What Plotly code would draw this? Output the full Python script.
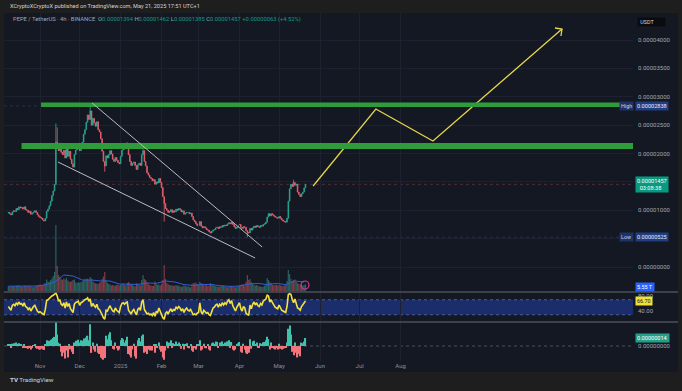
import plotly.graph_objects as go
import pandas as pd

# ---------------- data (daily) ----------------
START = "2024-10-08"
first_open_e6 = 9.5
close_e6 = [
    # Oct 8-31
    9.6, 9.4, 9.2, 9.7, 9.9, 9.8, 10.3, 10.1, 10.6, 10.4, 10.5, 10.2, 10.6, 10.1, 10.0, 9.6, 9.8, 9.3, 9.5, 9.7, 9.9, 9.6, 9.2, 8.9,
    # Nov
    8.7, 8.6, 8.3, 8.1, 8.6, 9.8, 10.2, 10.8, 11.6, 12.6, 13.4, 14.5, 22.0, 21.5, 20.5, 21.8, 20.2, 19.8, 20.6, 19.2,
    20.8, 19.5, 20.4, 19.0, 18.2, 17.6, 19.8, 20.6, 20.9, 21.4,
    # Dec
    20.5, 21.6, 22.0, 23.4, 24.2, 25.5, 26.8, 26.0, 27.5, 25.0, 26.2, 25.4, 24.8, 25.6, 24.2, 23.8, 22.6, 20.4, 18.6, 17.8,
    19.6, 19.2, 19.8, 20.5, 19.9, 19.0, 18.6, 19.3, 18.8, 18.4, 18.2,
    # Jan
    19.5, 20.6, 21.0, 20.8, 21.2, 21.6, 19.8, 18.6, 17.9, 18.3, 18.5, 17.9, 17.2, 18.0, 18.3, 17.9, 19.8, 20.5, 18.6, 17.8,
    16.6, 16.2, 15.8, 15.6, 15.2, 15.4, 14.6, 15.0, 14.8, 15.6, 14.9,
    # Feb
    14.0, 12.4, 11.2, 10.3, 10.0, 9.6, 9.8, 10.1, 9.6, 9.9, 9.7, 10.2, 10.0, 10.3, 10.1, 9.7, 9.9, 9.3, 9.5, 9.6,
    9.6, 9.4, 9.5, 8.9, 8.3, 8.0, 7.6, 7.3,
    # Mar
    7.3, 8.0, 7.2, 6.9, 7.1, 6.9, 6.6, 6.5, 6.2, 6.0, 6.3, 6.5, 6.6, 6.9, 7.0, 6.8, 7.1, 7.0, 7.3, 7.2,
    7.4, 7.3, 7.6, 7.8, 7.6, 7.9, 7.5, 7.1, 6.8, 7.0, 7.2,
    # Apr
    7.5, 7.0, 6.8, 7.1, 7.0, 6.4, 6.1, 6.0, 6.8, 6.5, 6.9, 7.2, 7.0, 7.3, 7.1, 7.0, 7.3, 7.2, 7.5, 7.6,
    7.9, 8.8, 9.4, 9.0, 9.4, 9.2, 9.0, 8.8, 8.7, 8.6,
    # May 1-21
    8.9, 8.6, 8.3, 8.1, 8.0, 7.9, 8.6, 11.6, 13.8, 14.6, 14.2, 14.9, 14.4, 14.6, 13.2, 12.8, 12.4, 12.9, 13.2, 13.94, 14.57,
]
wick_high_e6 = {"2024-11-13": 25.3, "2024-11-14": 24.6, "2024-12-09": 28.38, "2025-01-06": 22.0,
                "2025-01-18": 21.0, "2025-05-12": 15.4}
wick_low_e6 = {"2024-12-20": 16.8, "2025-02-03": 8.0, "2025-04-07": 5.25}

volume_t = [
    24, 22, 20, 26, 22, 20, 28, 25, 30, 24, 22, 20, 27, 26, 24, 28, 22, 25, 20, 18, 22, 25, 28, 30,
    32, 28, 30, 36, 40, 58, 48, 45, 55, 62, 75, 95, 330, 125, 80, 70, 60, 55, 62, 58, 65, 52, 48, 45, 50, 55, 58, 42, 40, 45,
    40, 45, 48, 55, 60, 58, 62, 55, 70, 62, 48, 42, 38, 36, 35, 40, 45, 60, 72, 95, 55, 40, 35, 32, 28, 30, 28, 26, 30, 32, 28,
    30, 35, 38, 30, 28, 40, 45, 38, 35, 32, 25, 24, 40, 35, 30, 28, 55, 80, 60, 55, 45, 35, 30, 28, 25, 26, 48, 35, 30, 32, 28,
    35, 55, 130, 60, 40, 35, 30, 28, 30, 25, 28, 30, 26, 28, 24, 20, 22, 28, 25, 22, 24, 20, 18, 32, 40, 38, 42, 35,
    30, 45, 40, 35, 30, 28, 30, 25, 28, 40, 35, 30, 26, 24, 22, 20, 22, 24, 28, 25, 22, 20, 18, 24, 26, 22, 20, 22, 18, 20, 24,
    28, 30, 34, 32, 26, 45, 80, 55, 60, 45, 35, 30, 28, 30, 26, 24, 22, 20, 22, 26, 35, 65, 55, 45, 40, 30, 28, 30, 32, 28,
    30, 28, 26, 25, 28, 30, 50, 105, 85, 60, 50, 55, 58, 45, 40, 35, 30, 32, 28, 30, 34,
]
vol_ma_t = [24, 24, 24, 25, 30, 45, 80, 75, 55, 55, 50, 50, 35, 33, 33, 40, 38, 50, 45, 32,
            28, 33, 32, 26, 23, 25, 35, 38, 32, 38, 32, 50, 45]   # weekly from Oct 8

rsi = [
    52, 46, 42, 55, 58, 54, 62, 57, 64, 58, 60, 53, 62, 52, 50, 44, 49, 40, 47, 52, 55, 47, 40, 36,
    38, 35, 33, 30, 45, 68, 70, 74, 78, 80, 82, 84, 88, 80, 66, 70, 58, 55, 62, 48, 64, 52, 60, 46, 40, 36, 58, 63, 64, 66,
    55, 62, 64, 68, 70, 72, 75, 66, 72, 52, 60, 54, 50, 58, 46, 44, 38, 30, 22, 18, 42, 40, 48, 54, 46, 40, 38, 48, 42, 38, 36,
    52, 60, 62, 58, 62, 64, 42, 36, 32, 40, 44, 36, 30, 44, 48, 42, 64, 70, 44, 38, 32, 34, 30, 32, 28, 36, 26, 38, 36, 48, 38,
    30, 22, 18, 34, 38, 32, 40, 46, 38, 44, 42, 50, 46, 52, 48, 40, 46, 36, 44, 48, 42, 40, 44, 36, 30, 32, 30, 34,
    36, 62, 38, 32, 42, 38, 34, 36, 30, 28, 42, 48, 50, 56, 58, 50, 58, 54, 62, 56, 62, 58, 66, 70, 60, 68, 54, 44, 40, 50, 56,
    62, 46, 40, 52, 48, 34, 30, 28, 56, 46, 58, 64, 56, 62, 54, 52, 60, 56, 66, 68, 72, 82, 80, 64, 70, 62, 56, 50, 48, 46,
    56, 48, 42, 40, 38, 36, 52, 84, 86, 84, 70, 62, 72, 62, 48, 46, 42, 52, 58, 62, 66.7,
]
macd_hist_e8 = [
    2, 3, -2, 4, 5, 3, 6, 4, 5, 2, 3, -2, 3, -3, -4, -5, -2, -6, -3, 1, 2, -2, -5, -6,
    -6, -5, -6, -7, 3, 10, 8, 9, 11, 12, 14, 16, 42, 20, 6, 4, -10, -18, -12, -22, -8, -20, 3, -6, -10, -14, 6, 9, 8, 11,
    6, 10, 9, 13, 12, 15, 18, 10, 38, -12, 6, -6, -10, 4, -12, -14, -20, -22, -24, -21, 18, 12, 20, 24, 10, -5, -6, 6, -4, -8, -6,
    10, 14, 12, 6, 10, 16, -14, -16, -20, -6, 4, -18, -22, 10, 14, 8, 18, 20, -12, -10, -14, -6, -8, -4, -8, 3, -12, 2, -3, 6, -6,
    -10, -20, -24, -8, 8, -4, 6, 10, -3, 5, 2, 8, 3, 6, 2, -5, 4, -6, 3, 5, -3, -4, 2, -8, -10, -4, -6, 3,
    2, 10, -8, -6, 4, -3, -4, 2, -6, -8, 5, 6, 4, 8, 7, -3, 6, 3, 8, 2, 6, 3, 8, 10, -2, 7, -6, -8, -6, 3, 5,
    7, -10, -12, 4, -6, -12, -14, -12, 12, -5, 8, 9, 2, 6, -3, -2, 5, 2, 6, 7, 10, 16, 12, -6, 6, -3, -5, -6, -4, -6,
    4, -5, -6, -5, -4, -3, 6, 30, 36, 20, -10, -16, 6, -12, -20, -14, -18, 6, 5, 8, 14,
]

price_ticks = [0, 5e-6, 1e-5, 1.5e-5, 2e-5, 2.5e-5, 3e-5, 3.5e-5, 4e-5]
hidden_ticks = [5e-6, 1.5e-5]   # covered by the Low / last-price labels in the reference
month_ticks = ["2024-11-01", "2024-12-01", "2025-01-01", "2025-02-01", "2025-03-01",
               "2025-04-01", "2025-05-01", "2025-06-01", "2025-07-01", "2025-08-01"]
month_labels = ["Nov", "Dec", "2025", "Feb", "Mar", "Apr", "May", "Jun", "Jul", "Aug"]

# author's drawings (time, price)
zone_upper = ("2024-11-01 18:00", 2.82e-5, 2.90e-5)
zone_lower = ("2024-10-18 00:00", 2.08e-5, 2.185e-5)
wedge_upper = [("2024-12-10 10:00", 2.890e-5), ("2025-04-18 05:00", 3.52e-6)]
wedge_lower = [("2024-11-14 14:00", 1.850e-5), ("2025-04-12 21:00", 1.59e-6)]
proj_dates = ["2025-05-26 19:00", "2025-07-13 07:00", "2025-08-25 12:00", "2025-12-01 05:00"]
proj_prices = [1.427e-5, 2.784e-5, 2.220e-5, 4.194e-5]

last_price = 1.457e-5
high_price = 2.838e-5
low_price = 5.25e-6
X_RANGE = ["2024-10-04 17:00", "2026-01-24 00:00"]

# ---------------- derived ----------------
n = len(close_e6)
assert n == len(volume_t) == len(rsi) == len(macd_hist_e8) == 226
dates = pd.date_range(START, periods=n, freq="D")
dstr = [d.strftime("%Y-%m-%d") for d in dates]
close = [v * 1e-6 for v in close_e6]
opens = [first_open_e6 * 1e-6] + close[:-1]
high = [wick_high_e6[s] * 1e-6 if s in wick_high_e6 else max(o, c) for s, o, c in zip(dstr, opens, close)]
low = [wick_low_e6[s] * 1e-6 if s in wick_low_e6 else min(o, c) for s, o, c in zip(dstr, opens, close)]
vol_colors = ["rgba(60,160,145,0.55)" if c >= o else "rgba(215,90,100,0.55)" for o, c in zip(opens, close)]
macd_colors = ["#3fc2ab" if v >= 0 else "#f2737b" for v in macd_hist_e8]
ma_dates = pd.date_range(START, periods=len(vol_ma_t), freq="7D")

# ---------------- layout geometry (pixels) ----------------
W, H = 682, 391
L, R, T, B = 4, 633, 13, 361


def P(xp, yp):
    return (xp - L) / (R - L), (B - yp) / (B - T)


def fy(yp):
    return (B - yp) / (B - T)


BG = "#141823"
GRID = "#1e2230"
TXT = "#a3a6af"
FONT = "Roboto"

fig = go.Figure()

fig.add_trace(go.Bar(x=dates, y=volume_t, marker=dict(color=vol_colors, line=dict(width=0)),
                     yaxis="y4", hoverinfo="skip"))
fig.add_trace(go.Scatter(x=ma_dates, y=vol_ma_t, mode="lines", line=dict(color="#2f5fd8", width=1),
                         yaxis="y4", hoverinfo="skip"))
fig.add_trace(go.Candlestick(x=dates, open=opens, high=high, low=low, close=close,
                             increasing=dict(line=dict(color="#2aa893", width=0.8), fillcolor="#2aa893"),
                             decreasing=dict(line=dict(color="#e8626f", width=0.8), fillcolor="#e8626f"),
                             whiskerwidth=0, yaxis="y", hoverinfo="skip"))
fig.add_trace(go.Scatter(x=proj_dates, y=proj_prices, mode="lines",
                         line=dict(color="#e6d54a", width=1.3), yaxis="y", hoverinfo="skip"))
fig.add_trace(go.Scatter(x=dates, y=rsi, mode="lines", line=dict(color="#f4e23c", width=1.6),
                         yaxis="y2", hoverinfo="skip"))
fig.add_trace(go.Bar(x=dates, y=macd_hist_e8, marker=dict(color=macd_colors, line=dict(width=0)),
                     yaxis="y3", hoverinfo="skip"))

shapes = []
# chart panel background
x0p, y0p = P(L, 372)
x1p, y1p = P(678, T)
shapes.append(dict(type="rect", xref="paper", yref="paper", x0=x0p, x1=x1p, y0=y0p, y1=y1p,
                   fillcolor=BG, line=dict(width=0), layer="below"))
# RSI band
shapes.append(dict(type="rect", xref="paper", yref="y2", x0=0, x1=1, y0=30, y1=70,
                   fillcolor="#1c2d6c", line=dict(width=0), layer="below"))
for lvl in (30, 70):
    shapes.append(dict(type="line", xref="paper", yref="y2", x0=0, x1=1, y0=lvl, y1=lvl,
                       line=dict(color="#4a5b95", width=1, dash="dot"), layer="below"))
# MACD zero line
shapes.append(dict(type="line", xref="paper", yref="y3", x0=0, x1=1, y0=0, y1=0,
                   line=dict(color="#4a4e5a", width=1, dash="dot"), layer="below"))
# price line, high / low lines
shapes.append(dict(type="line", xref="paper", yref="y", x0=0, x1=1, y0=last_price, y1=last_price,
                   line=dict(color="rgba(200,80,90,0.35)", width=1, dash="dot"), layer="below"))
for lv in (high_price, low_price):
    shapes.append(dict(type="line", xref="paper", yref="y", x0=0, x1=1, y0=lv, y1=lv,
                       line=dict(color="rgba(60,90,170,0.35)", width=1, dash="dot"), layer="below"))
# pane separators
for yp in (292, 322):
    shapes.append(dict(type="line", xref="paper", yref="paper", x0=x0p, x1=x1p, y0=fy(yp), y1=fy(yp),
                       line=dict(color="#4b4f5a", width=1.5), layer="above"))
# green zones
for z in (zone_upper, zone_lower):
    shapes.append(dict(type="rect", xref="x", yref="y", x0=z[0], x1=X_RANGE[1], y0=z[1], y1=z[2],
                       fillcolor="#2f9c3b", line=dict(width=0), layer="above"))
# wedge
for wl in (wedge_upper, wedge_lower):
    shapes.append(dict(type="line", xref="x", yref="y", x0=wl[0][0], y0=wl[0][1], x1=wl[1][0], y1=wl[1][1],
                       line=dict(color="#b9bcc6", width=1), layer="above"))
# projection arrowhead
shapes.append(dict(type="path", xref="x", yref="y", xsizemode="pixel", ysizemode="pixel",
                   xanchor=proj_dates[-1], yanchor=proj_prices[-1],
                   path="M -7,1 L 0,0 L -1,-7", line=dict(color="#e6d54a", width=1.3), layer="above"))
# little magenta icon in volume area
cx, cy = P(305, 285)
dx, dy = 4 / (R - L), 4 / (B - T)
shapes.append(dict(type="circle", xref="paper", yref="paper", x0=cx - dx, x1=cx + dx, y0=cy - dy, y1=cy + dy,
                   line=dict(color="#d23b8f", width=1.2), layer="above"))

ann = []


def label(xp, yp, text, bg=None, color="#d1d4dc", size=5.6, anchor="left", pad=1):
    x, y = P(xp, yp)
    d = dict(x=x, y=y, xref="paper", yref="paper", text=text, showarrow=False, xanchor=anchor,
             yanchor="middle", font=dict(family=FONT, size=size, color=color), borderpad=pad)
    if bg:
        d["bgcolor"] = bg
    ann.append(d)


label(8, 6, "XCryptoXCryptoX published on TradingView.com, May 21, 2025 17:51 UTC+1", color="#d1d4dc", size=5.6)
G = "#0f9d84"
legend = ("<span style='color:#a3a6af'>PEPE / TetherUS · 4h · BINANCE  O</span>"
          f"<span style='color:{G}'>0.00001394</span><span style='color:#a3a6af'> H</span>"
          f"<span style='color:{G}'>0.00001462</span><span style='color:#a3a6af'> L</span>"
          f"<span style='color:{G}'>0.00001385</span><span style='color:#a3a6af'> C</span>"
          f"<span style='color:{G}'>0.00001457 +0.00000063 (+4.52%)</span>")
label(11, 20, legend, size=5.8)
label(637, 22, " USDT        ", bg="#0b0c10", color="#d1d4dc", size=5.4)
label(619, 106, "High", bg="#1d3366", color="#c9d3f5", size=5.4)
label(635, 106, "0.00002838", bg="#1f3d80", color="#e6ebff", size=5.6)
label(619, 237, "Low ", bg="#1d3366", color="#c9d3f5", size=5.4)
label(635, 237, "0.00000525", bg="#1f3d80", color="#e6ebff", size=5.6)
label(635, 185, "0.00001457<br>03:08:38  ", bg="#089981", color="#ffffff", size=5.6)
label(635, 287, "5.55 T", bg="#2962ff", color="#ffffff", size=5.4)
label(635, 301, "66.70", bg="#f2df3b", color="#131722", size=5.4)
label(635, 338, "0.00000014", bg="#22a08a", color="#ffffff", size=5.6)
label(8, 380, "<b>TV</b> TradingView", color="#d1d4dc", size=6.2)

fig.update_layout(
    width=W, height=H, margin=dict(l=L, r=W - R, t=T, b=H - B, pad=0),
    paper_bgcolor="#1e1e1f", plot_bgcolor="rgba(0,0,0,0)",
    showlegend=False, hovermode=False, bargap=0.1,
    font=dict(family=FONT, size=6, color=TXT),
    xaxis=dict(type="date", range=X_RANGE, anchor="y3", tickvals=month_ticks, ticktext=month_labels,
               showgrid=True, gridcolor=GRID, gridwidth=1, zeroline=False, showline=False, ticks="",
               tickfont=dict(size=6, color="#8d909a"), rangeslider=dict(visible=False), fixedrange=True),
    yaxis=dict(domain=[fy(292), 1], range=[-4.405e-6, 4.4758e-5], side="right", tickvals=price_ticks,
               ticktext=["" if v in hidden_ticks else f"{v:.8f}" for v in price_ticks],
               showgrid=True, gridcolor=GRID, zeroline=False,
               ticks="", ticklabelstandoff=4, tickfont=dict(size=6, color=TXT), anchor="x"),
    yaxis2=dict(domain=[fy(322), fy(292)], range=[10.67, 90.67], side="right", tickvals=[80, 40],
                ticktext=["80.00", "40.00"], showgrid=False, zeroline=False, ticks="", ticklabelstandoff=4,
                tickfont=dict(size=6, color=TXT), anchor="x"),
    yaxis3=dict(domain=[0, fy(322)], range=[-26.25, 42], side="right", tickvals=[0],
                ticktext=["0.00000000"], showgrid=False, zeroline=False, ticks="", ticklabelstandoff=4,
                tickfont=dict(size=6, color=TXT), anchor="x"),
    yaxis4=dict(domain=[fy(291), fy(225)], range=[0, 330], visible=False, anchor="x"),
    shapes=shapes, annotations=ann,
)

fig.write_html("out.html", config={"displayModeBar": False},
               post_script="document.body.style.margin='0';document.body.style.overflow='hidden';")
